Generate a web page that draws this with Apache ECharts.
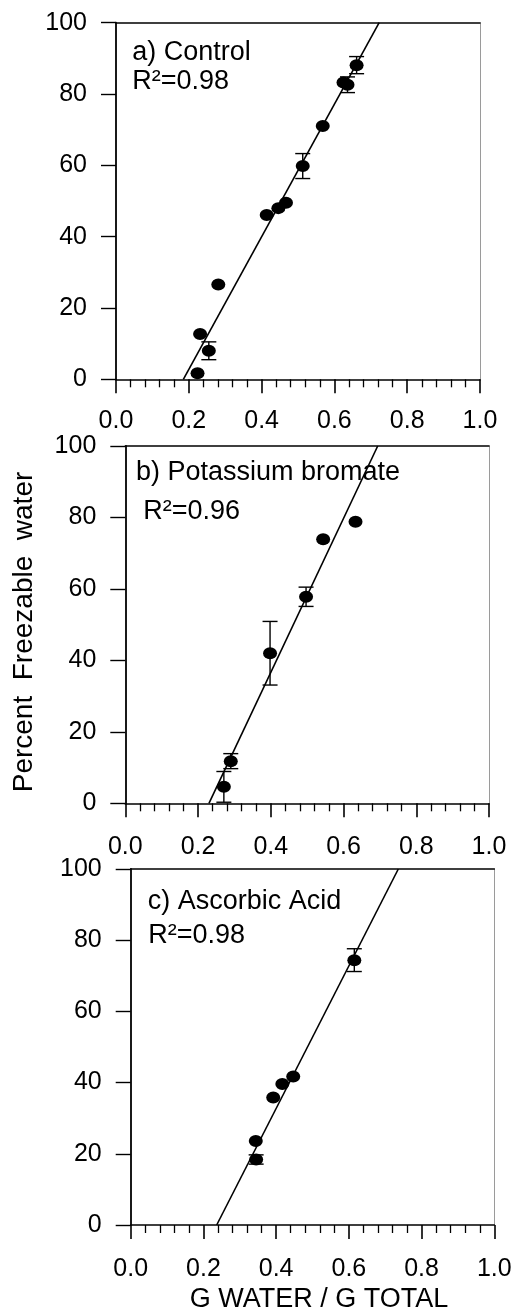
<!DOCTYPE html>
<html>
<head>
<meta charset="utf-8">
<title>Percent Freezable water</title>
<script src="https://cdn.jsdelivr.net/npm/echarts@6.0.0/dist/echarts.min.js"></script>
<style>
html, body { margin: 0; padding: 0; background: #fff; }
#charts { width: 516px; height: 1312px; }
</style>
</head>
<body>
<div id="charts"></div>
<script type="text/javascript">
// a) Control : [g water / g total, percent freezable]
var ptsA = [[0.224, 1.7], [0.231, 12.7], [0.255, 8.0], [0.281, 26.6], [0.414, 46.1], [0.446, 48.0],
            [0.467, 49.5], [0.513, 59.8], [0.568, 71.0], [0.625, 83.2], [0.636, 82.6], [0.661, 88.1]];
var errA = [[0.255, 8.0, 2.5], [0.513, 59.8, 3.5], [0.636, 82.6, 2.2], [0.661, 88.1, 2.4]];
var fitA = [[0.185, 0], [0.723, 100]];

// b) Potassium bromate
var ptsB = [[0.271, 4.6], [0.290, 11.8], [0.398, 42.0], [0.497, 57.8], [0.544, 73.9], [0.633, 78.8]];
var errB = [[0.271, 4.6, 4.3], [0.290, 11.8, 2.1], [0.398, 42.0, 8.9], [0.497, 57.8, 2.7]];
var fitB = [[0.230, 0], [0.694, 100]];

// c) Ascorbic Acid
var ptsC = [[0.344, 23.6], [0.345, 18.4], [0.392, 35.8], [0.417, 39.6], [0.447, 41.7], [0.615, 74.4]];
var errC = [[0.345, 18.4, 1.3], [0.615, 74.4, 3.2]];
var fitC = [[0.2365, 0], [0.736, 100]];

var panelNames = ['a) Control', 'b) Potassium bromate', 'c) Ascorbic Acid'];
var r2Labels = ['R\u00b2=0.98', 'R\u00b2=0.96', 'R\u00b2=0.98'];
var xTitle = 'G WATER / G TOTAL';
var yTitle = 'Percent  Freezable  water';

var FONT = '"Liberation Sans", Arial, sans-serif';

var dom = document.getElementById('charts');
var myChart = echarts.init(dom);

var grids = [
    {left: 116, top: 22.7, width: 364, height: 356.6},
    {left: 125.3, top: 446, width: 363.7, height: 357.3},
    {left: 130.7, top: 869, width: 363.6, height: 356}
];
var xMargins = [29.5, 31.5, 31.5];
var labelPos = [
    [132.3, 52.5, 132.3, 82],
    [136, 472.5, 143.3, 511.3],
    [147.7, 901.5, 148.3, 935.8]
];

function renderErr(params, api) {
    var x = api.value(0), y = api.value(1), e = api.value(2);
    var top = api.coord([x, y + e]);
    var bot = api.coord([x, y - e]);
    var hw = 7.5;
    var st = {stroke: '#000', lineWidth: 1.4};
    return {
        type: 'group',
        children: [
            {type: 'line', shape: {x1: top[0], y1: top[1], x2: bot[0], y2: bot[1]}, style: st},
            {type: 'line', shape: {x1: top[0] - hw, y1: top[1], x2: top[0] + hw, y2: top[1]}, style: st},
            {type: 'line', shape: {x1: bot[0] - hw, y1: bot[1], x2: bot[0] + hw, y2: bot[1]}, style: st}
        ]
    };
}

var xAxes = [], yAxes = [], series = [], graphics = [];
var allPts = [ptsA, ptsB, ptsC];
var allErr = [errA, errB, errC];
var allFit = [fitA, fitB, fitC];

grids.forEach(function (g, i) {
    g.show = false;
    g.containLabel = false;
    g.outerBoundsMode = 'none';
    xAxes.push({
        gridIndex: i, type: 'value', position: 'bottom',
        min: 0, max: 1, interval: 0.2,
        axisLine: {onZero: false, lineStyle: {color: '#000', width: 1.6}},
        axisTick: {inside: false, length: 14, lineStyle: {color: '#000', width: 1.6}},
        minorTick: {show: true, splitNumber: 5, length: 8, lineStyle: {color: '#000', width: 1.3}},
        splitLine: {show: false},
        axisLabel: {
            margin: xMargins[i], color: '#000', fontSize: 25, fontFamily: FONT,
            showMinLabel: true, showMaxLabel: true,
            formatter: function (v) { return v.toFixed(1); }
        }
    });
    xAxes.push({
        gridIndex: i, type: 'value', position: 'top',
        min: 0, max: 1,
        axisLine: {onZero: false, lineStyle: {color: '#000', width: 1.5}},
        axisTick: {show: false}, axisLabel: {show: false}, splitLine: {show: false}
    });
    yAxes.push({
        gridIndex: i, type: 'value', position: 'left',
        min: 0, max: 100, interval: 20,
        axisLine: {onZero: false, lineStyle: {color: '#000', width: 1.8}},
        axisTick: {inside: false, length: 15, lineStyle: {color: '#000', width: 1.4}},
        splitLine: {show: false},
        axisLabel: {
            margin: 29, color: '#000', fontSize: 25, fontFamily: FONT,
            showMinLabel: true, showMaxLabel: true
        }
    });
    yAxes.push({
        gridIndex: i, type: 'value', position: 'right',
        min: 0, max: 100,
        axisLine: {onZero: false, lineStyle: {color: '#9a9a9a', width: 1}},
        axisTick: {show: false}, axisLabel: {show: false}, splitLine: {show: false}
    });

    series.push({
        type: 'line', xAxisIndex: 2 * i, yAxisIndex: 2 * i,
        data: allFit[i], symbol: 'none', silent: true, z: 2,
        lineStyle: {color: '#000', width: 1.6}
    });
    series.push({
        type: 'custom', xAxisIndex: 2 * i, yAxisIndex: 2 * i,
        data: allErr[i], renderItem: renderErr, encode: {x: 0, y: 1}, z: 3, silent: true
    });
    series.push({
        type: 'scatter', xAxisIndex: 2 * i, yAxisIndex: 2 * i,
        data: allPts[i], symbol: 'circle', symbolSize: [14, 12], z: 4,
        itemStyle: {color: '#000', opacity: 1}
    });

    var p = labelPos[i];
    graphics.push({
        type: 'text', x: p[0], y: p[1],
        style: {text: panelNames[i], fill: '#000', font: '27px ' + FONT, align: 'left', verticalAlign: 'middle'}
    });
    graphics.push({
        type: 'text', x: p[2], y: p[3],
        style: {text: r2Labels[i], fill: '#000', font: '27px ' + FONT, align: 'left', verticalAlign: 'middle'}
    });
});

graphics.push({
    type: 'text', x: 24.5, y: 632, rotation: Math.PI / 2,
    style: {text: yTitle, fill: '#000', font: '28px ' + FONT, align: 'center', verticalAlign: 'middle'}
});
graphics.push({
    type: 'text', x: 319, y: 1300,
    style: {text: xTitle, fill: '#000', font: '27px ' + FONT, align: 'center', verticalAlign: 'middle'}
});

var option = {
    backgroundColor: '#fff',
    animation: false,
    grid: grids,
    xAxis: xAxes,
    yAxis: yAxes,
    series: series,
    graphic: graphics
};
myChart.setOption(option, true);
</script>
</body>
</html>
